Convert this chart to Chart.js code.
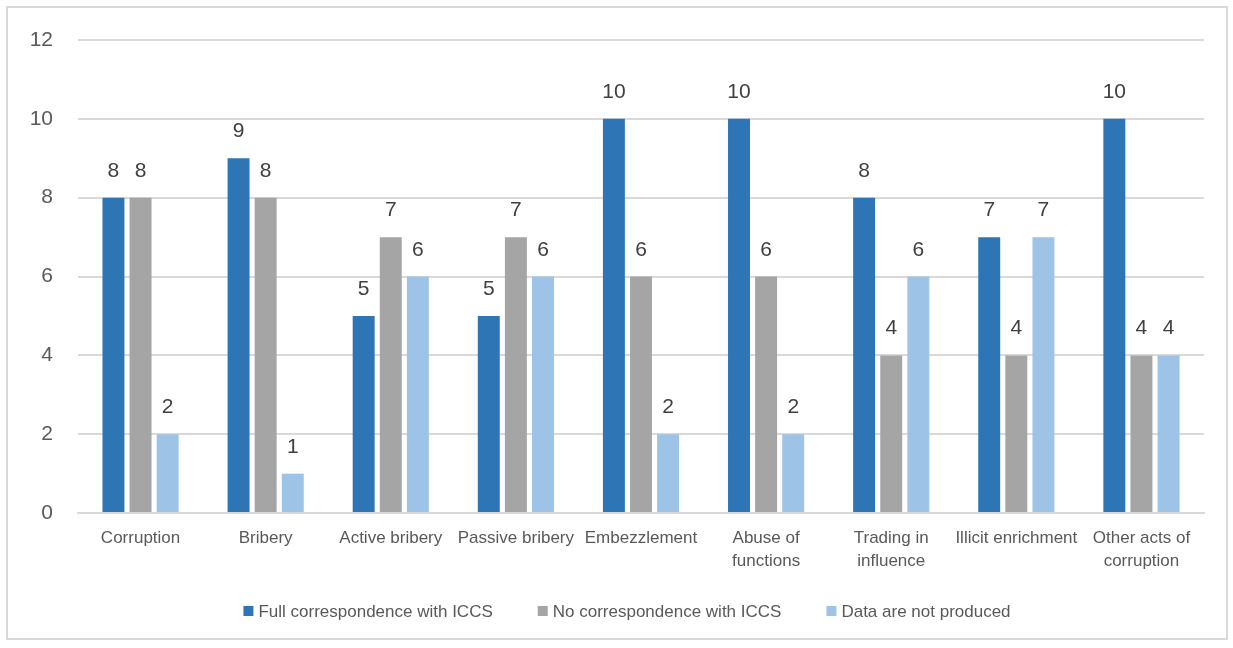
<!DOCTYPE html>
<html>
<head>
<meta charset="utf-8">
<script src="https://cdn.jsdelivr.net/npm/chart.js@4.4.1/dist/chart.umd.min.js"></script>
<style>
  html, body { margin: 0; padding: 0; background: #fff; }
  #frame {
    position: absolute; left: 6px; top: 6px;
    width: 1218px; height: 630px;
    border: 2px solid #d9d9d9;
  }
  canvas { display: block; }
</style>
</head>
<body>
<div id="frame"><canvas id="myChart" width="1218" height="630"></canvas></div>
<script>
// chart data
const categories = [
    'Corruption', 'Bribery', 'Active bribery', 'Passive bribery', 'Embezzlement',
    ['Abuse of', 'functions'], ['Trading in', 'influence'], 'Illicit enrichment', ['Other acts of', 'corruption']
];
const seriesNames = ['Full correspondence with ICCS', 'No correspondence with ICCS', 'Data are not produced'];
const fullCorrespondence = [8, 9, 5, 5, 10, 10, 8, 7, 10];
const noCorrespondence = [8, 8, 7, 7, 6, 6, 4, 4, 4];
const notProduced = [2, 1, 6, 6, 2, 2, 6, 7, 4];
const yTicks = [0, 2, 4, 6, 8, 10, 12];

const numFont = '"Liberation Sans", Arial, sans-serif';
const textFont = '"Liberation Sans", Arial, sans-serif';

// draws the value above each bar
const valueLabels = {
    id: 'valueLabels',
    afterDatasetsDraw(chart) {
        const ctx = chart.ctx;
        ctx.save();
        ctx.font = '21px ' + numFont;
        ctx.fillStyle = '#404040';
        ctx.textAlign = 'center';
        ctx.textBaseline = 'alphabetic';
        chart.data.datasets.forEach((ds, i) => {
            chart.getDatasetMeta(i).data.forEach((bar, j) => {
                ctx.fillText(ds.data[j], bar.x, bar.y - 21);
            });
        });
        ctx.restore();
    }
};

// legend drawn at the bottom, Excel style (small square, tight text)
const bottomLegend = {
    id: 'bottomLegend',
    afterDraw(chart) {
        const ctx = chart.ctx;
        const box = 10, textGap = 5, itemGap = 45;
        ctx.save();
        ctx.font = '17px ' + textFont;
        ctx.textBaseline = 'middle';
        const items = chart.data.datasets.map(ds => ({
            text: ds.label, color: ds.backgroundColor, w: ctx.measureText(ds.label).width
        }));
        let total = items.reduce((s, it) => s + box + textGap + it.w, 0) + itemGap * (items.length - 1);
        let x = chart.width / 2 + 10 - total / 2;
        const y = 603;
        items.forEach(it => {
            ctx.fillStyle = it.color;
            ctx.fillRect(x, y - box / 2, box, box);
            ctx.fillStyle = '#595959';
            ctx.fillText(it.text, x + box + textGap, y + 1);
            x += box + textGap + it.w + itemGap;
        });
        ctx.restore();
    }
};

const ctx = document.getElementById('myChart').getContext('2d');
const myChart = new Chart(ctx, {
    type: 'bar',
    data: {
        labels: categories,
        datasets: [
            { label: seriesNames[0], data: fullCorrespondence, backgroundColor: '#2E75B6' },
            { label: seriesNames[1], data: noCorrespondence, backgroundColor: '#A5A5A5' },
            { label: seriesNames[2], data: notProduced, backgroundColor: '#9DC3E6' }
        ]
    },
    options: {
        responsive: false,
        animation: false,
        categoryPercentage: 0.65,
        barPercentage: 0.81,
        layout: { padding: { top: 32, right: 22, bottom: 59, left: 0 } },
        plugins: {
            tooltip: { enabled: false },
            legend: { display: false }
        },
        scales: {
            x: {
                grid: { display: false },
                border: { color: '#d9d9d9', width: 2 },
                ticks: {
                    color: '#595959',
                    font: { family: textFont, size: 17, lineHeight: 1.35 },
                    padding: 6,
                    maxRotation: 0,
                    autoSkip: false
                }
            },
            y: {
                min: 0,
                max: 12,
                afterBuildTicks: (scale) => { scale.ticks = yTicks.map(v => ({ value: v })); },
                afterFit: (scale) => {
                    scale.width = 70;
                    scale.paddingTop = 0;
                    scale.paddingBottom = 0;
                },
                grid: { color: '#d9d9d9', lineWidth: 2, drawTicks: false },
                border: { display: false },
                ticks: {
                    color: '#595959',
                    font: { family: numFont, size: 21 },
                    padding: 25
                }
            }
        }
    },
    plugins: [valueLabels, bottomLegend]
});
</script>
</body>
</html>
